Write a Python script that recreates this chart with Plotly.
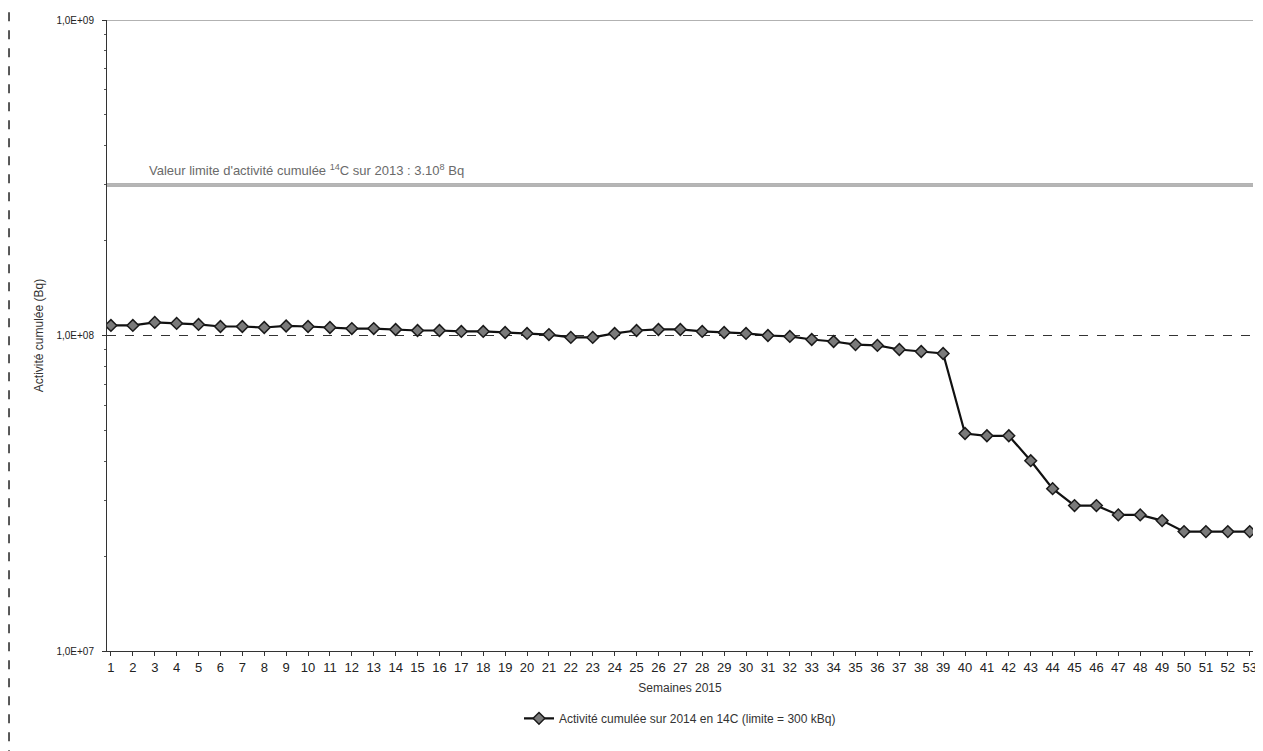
import plotly.graph_objects as go
import math

weeks = list(range(1, 54))
week_labels = [str(w) for w in weeks]
activity = [1.076e8, 1.076e8, 1.10e8, 1.092e8, 1.084e8, 1.068e8, 1.068e8, 1.06e8, 1.072e8, 1.068e8,
            1.06e8, 1.052e8, 1.052e8, 1.045e8, 1.037e8, 1.037e8, 1.03e8, 1.03e8, 1.022e8, 1.015e8,
            1.007e8, 0.986e8, 0.986e8, 1.015e8, 1.037e8, 1.045e8, 1.045e8, 1.03e8, 1.022e8, 1.015e8,
            1.0e8, 0.993e8, 0.971e8, 0.957e8, 0.936e8, 0.930e8, 0.903e8, 0.890e8, 0.877e8, 0.489e8,
            0.481e8, 0.481e8, 0.401e8, 0.327e8, 0.289e8, 0.289e8, 0.270e8, 0.270e8, 0.259e8, 0.239e8,
            0.239e8, 0.239e8, 0.239e8]
limit_value = 3e8
y_ticks = [1e7, 1e8, 1e9]
y_tick_labels = ["1,0E+07", "1,0E+08", "1,0E+09"]

font = "Liberation Sans"

fig = go.Figure()
fig.add_trace(go.Scatter(
    x=weeks, y=activity, mode="lines+markers",
    name="Activité cumulée sur 2014 en 14C (limite = 300 kBq)",
    line=dict(color="#111111", width=2.2),
    marker=dict(symbol="diamond", size=9, color="#7a7a7a",
                line=dict(color="#1a1a1a", width=1.5)),
))

# limit line (double gray)
fig.add_hline(y=limit_value, line=dict(color="#9a9a9a", width=3.5), layer="below")
fig.add_hline(y=limit_value, line=dict(color="#e0e0e0", width=0.8), layer="below")

fig.add_annotation(
    x=0.035, xref="paper", y=math.log10(limit_value), yref="y", yshift=15, xanchor="left",
    text="Valeur limite d'activité cumulée <sup>14</sup>C sur 2013 : 3.10<sup>8</sup> Bq",
    showarrow=False, font=dict(family=font, size=13, color="#6a6a6a"),
)

# grid lines: 1E+08 dashed, 1E+09 solid
fig.add_hline(y=1e8, line=dict(color="#333333", width=1, dash="dash"), layer="below")
fig.add_hline(y=1e9, line=dict(color="#666666", width=1), layer="below")

# page border artifact
fig.add_shape(type="line", xref="paper", yref="paper", x0=-0.0855, x1=-0.0855, y0=-0.2, y1=1.03,
              line=dict(color="#222222", width=1.5, dash="dash"))

fig.update_layout(
    width=1255, height=743,
    paper_bgcolor="white", plot_bgcolor="white",
    margin=dict(l=99, r=10, t=12, b=100, autoexpand=False),
    font=dict(family=font, color="#222222"),
    showlegend=True,
    legend=dict(orientation="h", x=0.5, xanchor="center", yref="container", y=0.044, yanchor="middle",
                font=dict(size=12, color="#333333")),
    xaxis=dict(
        range=[0.82, 53.15], tickmode="array", tickvals=weeks, ticktext=week_labels,
        ticks="outside", ticklen=4, tickcolor="#333333", showgrid=False,
        showline=True, linecolor="#333333", linewidth=1, automargin=False,
        tickfont=dict(size=13, color="#222222"),
        title=dict(text="Semaines 2015", font=dict(size=12, color="#333333"), standoff=10),
    ),
    yaxis=dict(
        type="log", range=[7, 9], tickmode="array", tickvals=y_ticks, ticktext=y_tick_labels,
        ticks="outside", ticklen=4, tickcolor="#333333", automargin=False,
        showgrid=False,
        showline=True, linecolor="#333333", linewidth=1,
        tickfont=dict(size=10, color="#222222"), ticklabelstandoff=6,
        minor=dict(ticks="outside", ticklen=2, tickcolor="#555555", showgrid=False, dtick="D1"),
        title=dict(text="Activité cumulée (Bq)", font=dict(size=12, color="#333333"), standoff=10),
        zeroline=False,
    ),
)

fig.write_html("out.html")
